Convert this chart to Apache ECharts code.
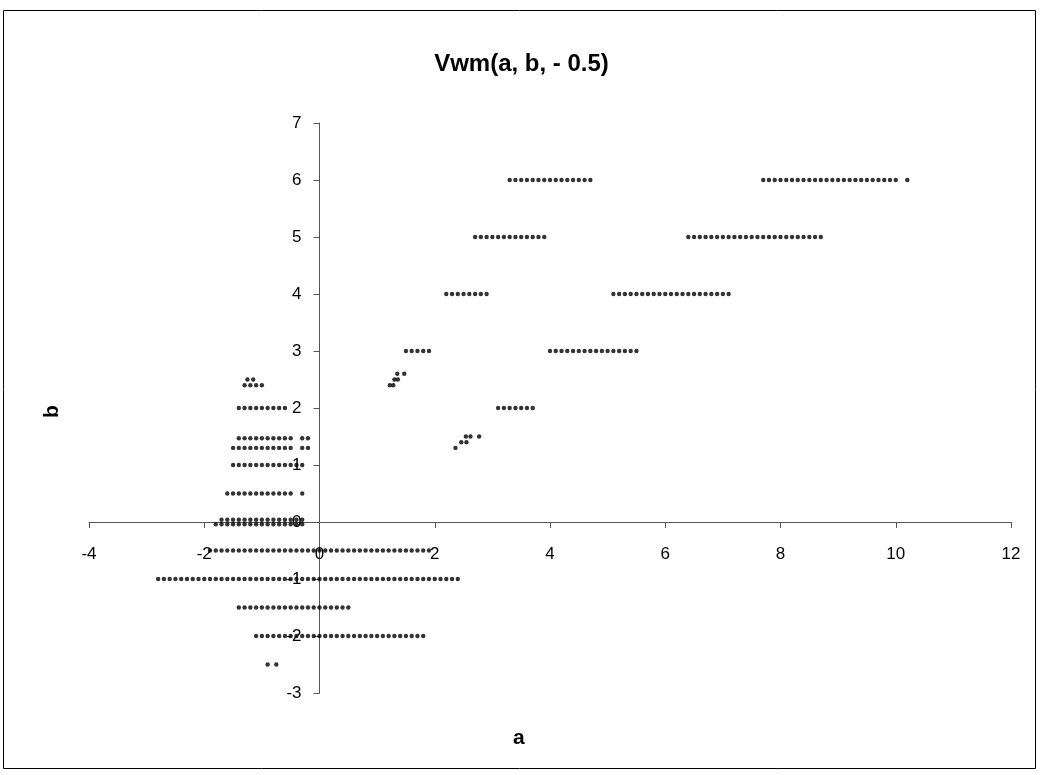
<!DOCTYPE html>
<html>
<head>
<meta charset="utf-8">
<script src="https://cdn.jsdelivr.net/npm/echarts@6/dist/echarts.min.js"></script>
<style>
html,body{margin:0;padding:0;background:#fff;}
#chart{width:1043px;height:775px;}
</style>
</head>
<body>
<div id="chart"></div>
<script>
// ---- data: each row holds the a-values observed at one b level ----
const titleText = "Vwm(a, b, - 0.5)";
const xName = "a";
const yName = "b";

const a_b6_left  = [3.3,3.4,3.5,3.6,3.7,3.8,3.9,4.0,4.1,4.2,4.3,4.4,4.5,4.6,4.7];
const a_b6_right = [7.7,7.8,7.9,8.0,8.1,8.2,8.3,8.4,8.5,8.6,8.7,8.8,8.9,9.0,9.1,9.2,9.3,9.4,9.5,9.6,9.7,9.8,9.9,10.0,10.2];
const a_b5_left  = [2.7,2.8,2.9,3.0,3.1,3.2,3.3,3.4,3.5,3.6,3.7,3.8,3.9];
const a_b5_right = [6.4,6.5,6.6,6.7,6.8,6.9,7.0,7.1,7.2,7.3,7.4,7.5,7.6,7.7,7.8,7.9,8.0,8.1,8.2,8.3,8.4,8.5,8.6,8.7];
const a_b4_left  = [2.2,2.3,2.4,2.5,2.6,2.7,2.8,2.9];
const a_b4_right = [5.1,5.2,5.3,5.4,5.5,5.6,5.7,5.8,5.9,6.0,6.1,6.2,6.3,6.4,6.5,6.6,6.7,6.8,6.9,7.0,7.1];
const a_b3_left  = [1.5,1.6,1.7,1.8,1.9];
const a_b3_right = [4.0,4.1,4.2,4.3,4.4,4.5,4.6,4.7,4.8,4.9,5.0,5.1,5.2,5.3,5.4,5.5];
const a_b2_right = [3.1,3.2,3.3,3.4,3.5,3.6,3.7];
const a_b2_6_mid = [1.35,1.47];
const a_b2_5_mid = [1.3,1.36];
const a_b2_4_mid = [1.22,1.28];
const a_b1_5_mid = [2.54,2.62,2.77];
const a_b1_4_mid = [2.46,2.55];
const a_b1_3_mid = [2.36];

const a_b2_5_left = [-1.25,-1.15];
const a_b2_4_left = [-1.3,-1.2,-1.1,-1.0];
const a_b2_left   = [-1.4,-1.3,-1.2,-1.1,-1.0,-0.9,-0.8,-0.7,-0.6];
const a_b1_45_left = [-1.4,-1.3,-1.2,-1.1,-1.0,-0.9,-0.8,-0.7,-0.6,-0.5,-0.3,-0.2];
const a_b1_3_left  = [-1.5,-1.4,-1.3,-1.2,-1.1,-1.0,-0.9,-0.8,-0.7,-0.6,-0.5,-0.3,-0.2];
const a_b1_left    = [-1.5,-1.4,-1.3,-1.2,-1.1,-1.0,-0.9,-0.8,-0.7,-0.6,-0.5,-0.4,-0.3];
const a_b0_5_left  = [-1.6,-1.5,-1.4,-1.3,-1.2,-1.1,-1.0,-0.9,-0.8,-0.7,-0.6,-0.5,-0.3];
const a_b0_up      = [-1.7,-1.6,-1.5,-1.4,-1.3,-1.2,-1.1,-1.0,-0.9,-0.8,-0.7,-0.6,-0.5,-0.4,-0.3];
const a_b0_dn      = [-1.8,-1.7,-1.6,-1.5,-1.4,-1.3,-1.2,-1.1,-1.0,-0.9,-0.8,-0.7,-0.6,-0.5,-0.4,-0.3];
const a_bm0_5 = [-1.9,-1.8,-1.7,-1.6,-1.5,-1.4,-1.3,-1.2,-1.1,-1.0,-0.9,-0.8,-0.7,-0.6,-0.5,-0.4,-0.3,-0.2,-0.1,0.0,
                 0.1,0.2,0.3,0.4,0.5,0.6,0.7,0.8,0.9,1.0,1.1,1.2,1.3,1.4,1.5,1.6,1.7,1.8,1.9];
const a_bm1 = [-2.8,-2.7,-2.6,-2.5,-2.4,-2.3,-2.2,-2.1,-2.0,-1.9,-1.8,-1.7,-1.6,-1.5,-1.4,-1.3,-1.2,-1.1,-1.0,
               -0.9,-0.8,-0.7,-0.6,-0.5,-0.4,-0.3,-0.2,-0.1,0.0,0.1,0.2,0.3,0.4,0.5,0.6,0.7,0.8,0.9,1.0,
               1.1,1.2,1.3,1.4,1.5,1.6,1.7,1.8,1.9,2.0,2.1,2.2,2.3,2.4];
const a_bm1_5 = [-1.4,-1.3,-1.2,-1.1,-1.0,-0.9,-0.8,-0.7,-0.6,-0.5,-0.4,-0.3,-0.2,-0.1,0.0,0.1,0.2,0.3,0.4,0.5];
const a_bm2 = [-1.1,-1.0,-0.9,-0.8,-0.7,-0.6,-0.5,-0.4,-0.3,-0.2,-0.1,0.0,0.1,0.2,0.3,0.4,0.5,0.6,0.7,0.8,
               0.9,1.0,1.1,1.2,1.3,1.4,1.5,1.6,1.7,1.8];
const a_bm2_5 = [-0.9,-0.75];

// b level for each row
const rowLevels = [6,6,5,5,4,4,3,3,2,2.6,2.5,2.4,1.5,1.4,1.3,
                   2.5,2.4,2,1.47,1.3,1,0.5,0.04,-0.04,-0.5,-1,-1.5,-2,-2.5];
const rowValues = [a_b6_left,a_b6_right,a_b5_left,a_b5_right,a_b4_left,a_b4_right,a_b3_left,a_b3_right,
                   a_b2_right,a_b2_6_mid,a_b2_5_mid,a_b2_4_mid,a_b1_5_mid,a_b1_4_mid,a_b1_3_mid,
                   a_b2_5_left,a_b2_4_left,a_b2_left,a_b1_45_left,a_b1_3_left,a_b1_left,a_b0_5_left,
                   a_b0_up,a_b0_dn,a_bm0_5,a_bm1,a_bm1_5,a_bm2,a_bm2_5];

const points = [];
rowValues.forEach((arr, i) => arr.forEach(a => points.push([a, rowLevels[i]])));

const X_MIN = -4, X_MAX = 12, Y_MIN = -3, Y_MAX = 7;
const GRID = {left: 89, right: 32, top: 123, bottom: 82};
const plotW = 1043 - GRID.left - GRID.right;
const plotH = 775 - GRID.top - GRID.bottom;
// shift each axis so it crosses the other at zero (labels follow the line)
const xAxisOffset = -plotH * (0 - Y_MIN) / (Y_MAX - Y_MIN);
const yAxisOffset = -plotW * (0 - X_MIN) / (X_MAX - X_MIN);

const chart = echarts.init(document.getElementById('chart'), null, {renderer: 'canvas'});
const FONT = "'Liberation Sans', Arial, sans-serif";
chart.setOption({
  backgroundColor: '#fff',
  animation: false,
  title: {
    text: titleText, left: 'center', top: 47,
    textStyle: {fontFamily: FONT, fontSize: 24, fontWeight: 'bold', color: '#000'}
  },
  grid: Object.assign({containLabel: false}, GRID),
  xAxis: {
    type: 'value', min: X_MIN, max: X_MAX, interval: 2,
    offset: xAxisOffset,
    axisLine: {onZero: false, lineStyle: {color: '#555', width: 1}},
    axisTick: {show: true, inside: false, length: 6, lineStyle: {color: '#555'}},
    axisLabel: {fontFamily: FONT, fontSize: 17, color: '#000', margin: 24},
    splitLine: {show: false}
  },
  yAxis: {
    type: 'value', min: Y_MIN, max: Y_MAX, interval: 1,
    offset: yAxisOffset,
    axisLine: {onZero: false, lineStyle: {color: '#555', width: 1}},
    axisTick: {show: true, inside: false, length: 6, lineStyle: {color: '#555'}},
    axisLabel: {fontFamily: FONT, fontSize: 17, color: '#000', margin: 18},
    splitLine: {show: false}
  },
  graphic: [
    {type: 'rect', shape: {x: 3.5, y: 10.5, width: 1032, height: 758}, style: {fill: 'none', stroke: '#000', lineWidth: 1}, z: -1},
    {type: 'text', left: 513, top: 728, style: {text: xName, font: "bold 21px 'Liberation Sans', Arial, sans-serif", fill: '#000'}},
    {type: 'text', x: 42, y: 418, rotation: Math.PI / 2, style: {text: yName, font: "bold 21px 'Liberation Sans', Arial, sans-serif", fill: '#000'}}
  ],
  series: [{
    type: 'scatter',
    data: points,
    symbol: 'circle',
    symbolSize: 4.4,
    itemStyle: {color: '#000'},
    z: 5
  }]
});
</script>
</body>
</html>
